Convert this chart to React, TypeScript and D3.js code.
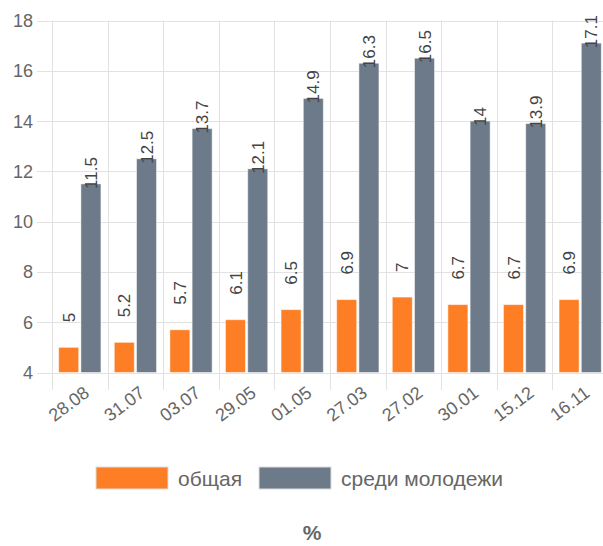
import React, { useEffect, useRef } from "react";
import * as d3 from "d3";

const dates = ["28.08", "31.07", "03.07", "29.05", "01.05", "27.03", "27.02", "30.01", "15.12", "16.11"];
const overall = [5, 5.2, 5.7, 6.1, 6.5, 6.9, 7, 6.7, 6.7, 6.9];
const youth = [11.5, 12.5, 13.7, 12.1, 14.9, 16.3, 16.5, 14, 13.9, 17.1];
const seriesNames = ["общая", "среди молодежи"];
const seriesColors = ["#fd7e24", "#6c7a89"];
const yTicks = [4, 6, 8, 10, 12, 14, 16, 18];

export default function App() {
  const ref = useRef<HTMLDivElement>(null);

  useEffect(() => {
    document.body.style.margin = "0";
    const width = 603;
    const height = 546;
    const font = "'Liberation Sans', Arial, sans-serif";

    d3.select(ref.current).selectAll("*").remove();
    const svg = d3
      .select(ref.current)
      .append("svg")
      .attr("width", width)
      .attr("height", height)
      .style("display", "block")
      .style("font-family", font);

    const left = 52;
    const step = 55.6;
    const x = d3.scaleBand().domain(dates).range([left, left + step * dates.length]);
    const y = d3.scaleLinear().domain([4, 18]).range([372.5, 20.5]);
    const bw = x.bandwidth();
    const x1 = d3.scaleBand().domain(seriesNames).range([bw * 0.1, bw * 0.9]);
    const barW = x1.bandwidth() * 0.9;

    // grid
    const grid = svg.append("g").attr("stroke", "#e2e2e2").attr("stroke-width", 1);
    yTicks.forEach((t) => {
      grid.append("line")
        .attr("x1", 37).attr("x2", x.range()[1])
        .attr("y1", Math.round(y(t)) + 0.5).attr("y2", Math.round(y(t)) + 0.5);
    });
    dates.forEach((d) => {
      grid.append("line")
        .attr("x1", Math.round(x(d)!) + 0.5).attr("x2", Math.round(x(d)!) + 0.5)
        .attr("y1", y(18)).attr("y2", 390);
    });

    // y tick labels
    svg.append("g")
      .selectAll("text")
      .data(yTicks)
      .enter()
      .append("text")
      .attr("x", 33)
      .attr("y", (d) => y(d))
      .attr("dy", "0.36em")
      .attr("text-anchor", "end")
      .attr("fill", "#666")
      .style("font-size", "18px")
      .text((d) => d);

    // x tick labels
    svg.append("g")
      .selectAll("text")
      .data(dates)
      .enter()
      .append("text")
      .attr("transform", (d) => `translate(${x(d)! + bw / 2 + 3},${385}) rotate(-37)`)
      .attr("dy", "0.71em")
      .attr("text-anchor", "end")
      .attr("fill", "#666")
      .style("font-size", "18px")
      .text((d) => d);

    const data = [overall, youth];
    data.forEach((vals, si) => {
      const g = svg.append("g");
      g.selectAll("rect")
        .data(vals)
        .enter()
        .append("rect")
        .attr("x", (d, i) => x(dates[i])! + x1(seriesNames[si])! + (x1.bandwidth() - barW) / 2)
        .attr("y", (d) => y(d))
        .attr("width", barW)
        .attr("height", (d) => y(4) - y(d))
        .attr("fill", seriesColors[si])
        .attr("stroke", "rgba(255,255,255,0.5)")
        .attr("stroke-width", 1);

      g.selectAll("text")
        .data(vals)
        .enter()
        .append("text")
        .attr("transform", (d, i) => {
          const cx = x(dates[i])! + x1(seriesNames[si])! + x1.bandwidth() / 2;
          const cy = si === 0 ? y(d) - 25 : y(d) + 5;
          return `translate(${cx},${cy}) rotate(-90)`;
        })
        .attr("dy", "0.36em")
        .attr("text-anchor", "start")
        .attr("fill", "#444")
        .style("font-size", "17px")
        .text((d) => d);
    });

    // legend
    const legendX = [96, 259];
    seriesNames.forEach((name, i) => {
      svg.append("rect")
        .attr("x", legendX[i]).attr("y", 467)
        .attr("width", 72).attr("height", 22)
        .attr("fill", seriesColors[i])
        .attr("stroke", "#ddd").attr("stroke-width", 1);
      svg.append("text")
        .attr("x", legendX[i] + 82).attr("y", 478)
        .attr("dy", "0.36em")
        .attr("fill", "#666")
        .style("font-size", "21px")
        .text(name);
    });

    svg.append("text")
      .attr("x", 312).attr("y", 532)
      .attr("dy", "0.36em")
      .attr("text-anchor", "middle")
      .attr("fill", "#666")
      .style("font-size", "21px")
      .style("font-weight", "bold")
      .text("%");
  }, []);

  return <div ref={ref}></div>;
}
